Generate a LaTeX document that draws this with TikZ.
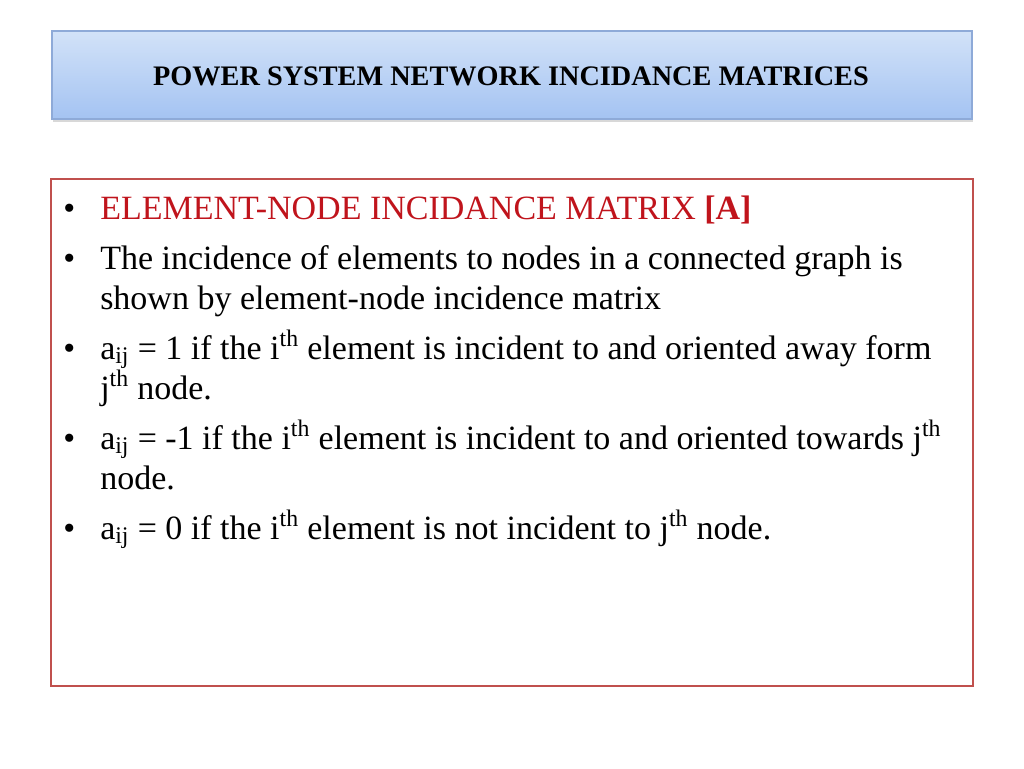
\documentclass[tikz,border=0pt]{standalone}
\usepackage{fontspec}
\setmainfont{Liberation Serif}
\usetikzlibrary{shadows}
\definecolor{redt}{HTML}{C0141C}
\definecolor{boxred}{HTML}{C0504D}
\definecolor{toptitle}{HTML}{D2E2F8}
\definecolor{bottitle}{HTML}{A4C3F2}
\definecolor{titleborder}{HTML}{8EAAD8}
\tikzset{
  line/.style={anchor=base west, inner sep=0pt, font=\fontsize{25.5}{30}\selectfont},
  bul/.style={anchor=base west, inner sep=0pt, font=\fontsize{25.5}{30}\selectfont}
}
\begin{document}
\begin{tikzpicture}[x=0.75pt,y=-0.75pt]
\useasboundingbox (0,0) rectangle (1024,768);
\fill[white] (0,0) rectangle (1024,768);
\path[draw=titleborder, line width=0.8pt, top color=toptitle, bottom color=bottitle, drop shadow={shadow xshift=1pt, shadow yshift=-2pt, opacity=0.3}]
  (52,31) rectangle (972,119);
\node[font=\bfseries\fontsize{21.2}{25}\selectfont] (title) at (511,76) {POWER SYSTEM NETWORK INCIDANCE MATRICES};
\draw[boxred, line width=1.5pt] (51,179) rectangle (973,686);
\node[bul] (b1) at (63,219) {•};
\node[line, text=redt] (l1) at (100,219) {ELEMENT-NODE INCIDANCE MATRIX \textbf{[A]}};
\node[bul] (b2) at (63,269) {•};
\node[line] (l2) at (100,269) {The incidence of elements to nodes in a connected graph is};
\node[line] (l2b) at (100,309) {shown by element-node incidence matrix};
\node[bul] (b3) at (63,359) {•};
\node[line] (l3) at (100,359) {a\textsubscript{ij} = 1 if the i\textsuperscript{th} element is incident to and oriented away form};
\node[line] (l3b) at (100,399) {j\textsuperscript{th} node.};
\node[bul] (b4) at (63,449) {•};
\node[line] (l4) at (100,449) {a\textsubscript{ij} = -1 if the i\textsuperscript{th} element is incident to and oriented towards j\textsuperscript{th}};
\node[line] (l4b) at (100,489) {node.};
\node[bul] (b5) at (63,539) {•};
\node[line] (l5) at (100,539) {a\textsubscript{ij} = 0 if the i\textsuperscript{th} element is not incident to j\textsuperscript{th} node.};
\end{tikzpicture}
\end{document}
